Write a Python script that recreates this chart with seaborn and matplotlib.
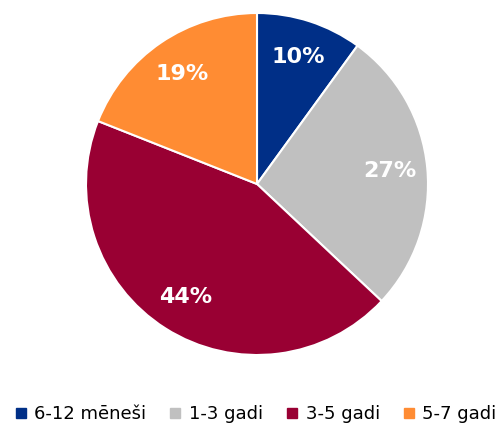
import matplotlib
matplotlib.use("Agg")
import matplotlib.pyplot as plt
import seaborn as sns
from matplotlib.lines import Line2D

# dati
categories = ["6-12 mēneši", "1-3 gadi", "3-5 gadi", "5-7 gadi"]
shares = [10, 27, 44, 19]
colors = ["#002F87", "#C0C0C0", "#990033", "#FF8C33"]

sns.set_theme(style="white")
plt.rcParams['font.family'] = ['DejaVu Sans']

fig = plt.figure(figsize=(5.02, 4.25), dpi=100)
W, H = 502, 425
cx, cy, r = 257, 184, 171
ax = fig.add_axes([(cx - r) / W, (H - cy - r) / H, 2 * r / W, 2 * r / H])

wedges, texts = ax.pie(
    shares,
    colors=colors,
    startangle=90,
    counterclock=False,
    labels=[f"{v}%" for v in shares],
    labeldistance=0.78,
    wedgeprops=dict(edgecolor="white", linewidth=1.5),
    textprops=dict(color="white", fontsize=16, fontweight="bold", ha="center", va="center"),
)
ax.set_aspect("equal")
ax.set_xlim(-1.0, 1.0)
ax.set_ylim(-1.0, 1.0)
ax.axis("off")

handles = [Line2D([0], [0], marker="s", linestyle="none", markersize=6.5,
                  markerfacecolor=c, markeredgecolor=c) for c in colors]
leg = fig.legend(handles, categories, loc="center", ncol=4,
                 bbox_to_anchor=(256 / W, 11 / H), frameon=False, fontsize=13,
                 handlelength=0.6, handletextpad=0.45, columnspacing=1.3,
                 borderpad=0, borderaxespad=0)
for t in leg.get_texts():
    t.set_color("black")

fig.savefig("out.png", dpi=100)
